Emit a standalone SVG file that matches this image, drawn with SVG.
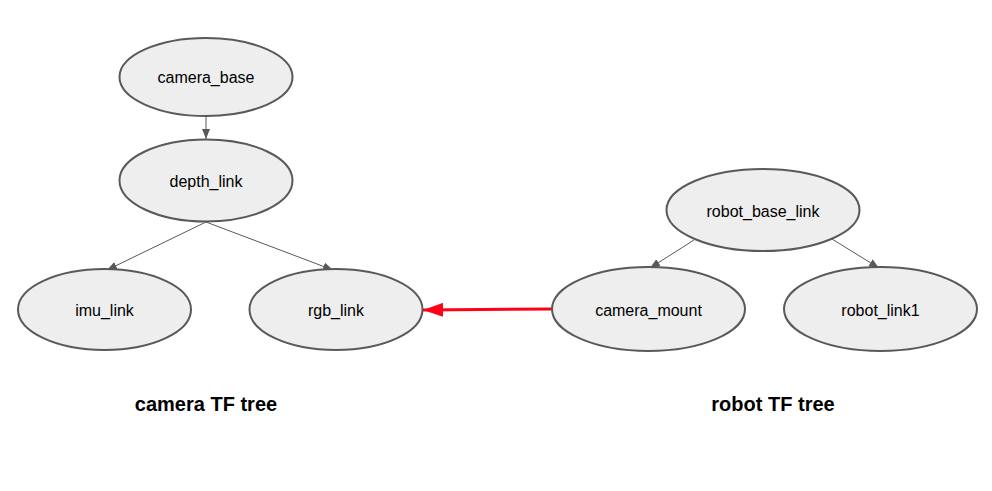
<svg xmlns="http://www.w3.org/2000/svg" width="992" height="491" viewBox="0 0 992 491">
<style>
.node ellipse{fill:#eeeeee;stroke:#595959;stroke-width:2}
.node text{font-family:"Liberation Sans",Arial,sans-serif;font-size:16px;fill:#000;text-anchor:middle;dominant-baseline:central}
.edge{stroke:#595959;stroke-width:1;fill:none;marker-end:url(#ah)}
.red{stroke:#ff0019;stroke-width:3;fill:none;marker-end:url(#rh)}
.title{font-family:"Liberation Sans",Arial,sans-serif;font-size:20px;font-weight:bold;fill:#000;text-anchor:middle}
</style>
<defs>
<marker id="ah" viewBox="0 0 10 10" refX="10" refY="5" markerWidth="10" markerHeight="10" markerUnits="userSpaceOnUse" orient="auto">
<path d="M0,1 L10,5 L0,9 Z" fill="#595959"/>
</marker>
<marker id="rh" viewBox="0 0 20 14" refX="20" refY="7" markerWidth="20" markerHeight="14" markerUnits="userSpaceOnUse" orient="auto">
<path d="M0,0 L20,7 L0,14 Z" fill="#ff0019"/>
</marker>
</defs>
<rect width="992" height="491" fill="#ffffff"/>
<g id="connectors">
<line class="edge" x1="206" y1="116" x2="206" y2="139"/>
<line class="edge" x1="206" y1="222" x2="107" y2="270"/>
<line class="edge" x1="206" y1="222" x2="333" y2="270"/>
<line class="edge" x1="694" y1="240" x2="650" y2="268"/>
<line class="edge" x1="832" y1="239" x2="879" y2="268"/>
<line class="red" x1="552" y1="309" x2="423" y2="310"/>
</g>
<g id="camera_base" class="node"><ellipse cx="206" cy="77" rx="86.5" ry="39"/><text x="206" y="77">camera_base</text></g>
<g id="depth_link" class="node"><ellipse cx="206" cy="180.5" rx="86.5" ry="41"/><text x="206" y="181">depth_link</text></g>
<g id="imu_link" class="node"><ellipse cx="104.5" cy="309.5" rx="86.5" ry="40.5"/><text x="104.5" y="310">imu_link</text></g>
<g id="rgb_link" class="node"><ellipse cx="336" cy="309.5" rx="86.5" ry="40.5"/><text x="336" y="310">rgb_link</text></g>
<g id="robot_base_link" class="node"><ellipse cx="763" cy="210" rx="96.5" ry="41"/><text x="763" y="211">robot_base_link</text></g>
<g id="camera_mount" class="node"><ellipse cx="648.5" cy="309" rx="96.5" ry="42"/><text x="648.5" y="310">camera_mount</text></g>
<g id="robot_link1" class="node"><ellipse cx="880.5" cy="309" rx="96.5" ry="42"/><text x="880.5" y="310">robot_link1</text></g>
<text class="title" x="206" y="411">camera TF tree</text>
<text class="title" x="773" y="411">robot TF tree</text>
</svg>
